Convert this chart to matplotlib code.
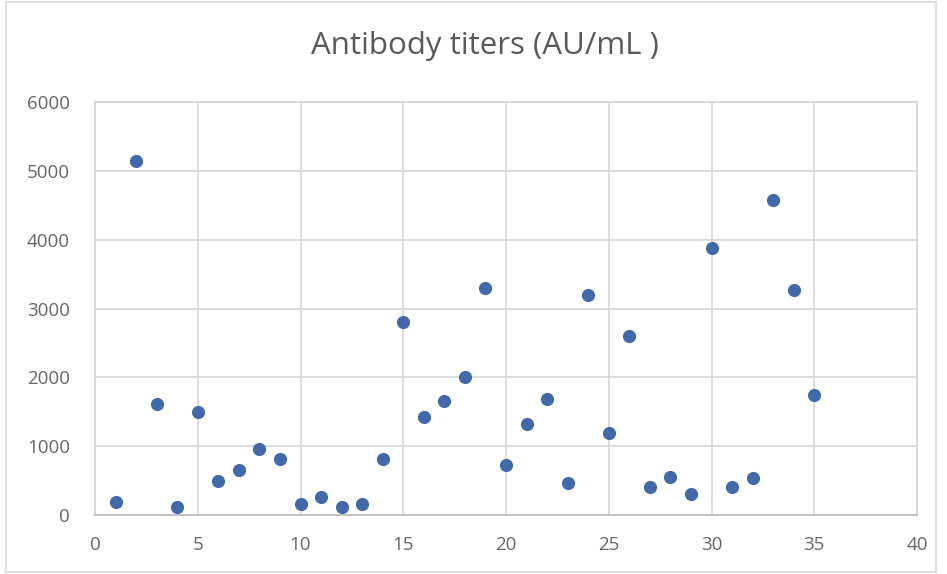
import numpy as np
import matplotlib
matplotlib.use("Agg")
import matplotlib.pyplot as plt
from matplotlib.patches import Rectangle

# Messwerte: Probennummer und Antikörpertiter
proben = np.arange(1, 36)
titer = [190, 5150, 1610, 110, 1500, 500, 650, 960, 820, 155,
         260, 110, 155, 820, 2810, 1430, 1650, 2000, 3300, 720,
         1320, 1690, 470, 3200, 1190, 2600, 400, 550, 300, 3880,
         400, 540, 4580, 3270, 1740]

x_ticks = np.arange(0, 41, 5)
y_ticks = np.arange(0, 6001, 1000)

plt.rcParams['font.family'] = ['Open Sans', 'DejaVu Sans']

fig = plt.figure(figsize=(9.47, 5.74), dpi=100)
ax = fig.add_axes([95 / 947, 1 - 515 / 574, (917 - 95) / 947, (515 - 102) / 574])

# Rahmen um die ganze Grafik
fig.patches.append(Rectangle((6 / 947, 2 / 574), 930 / 947, 570 / 574,
                             transform=fig.transFigure, fill=False,
                             edgecolor='#d9d9d9', linewidth=1.2))

ax.scatter(proben, titer, s=90, color='#4169aa', zorder=3, linewidths=0)

ax.set_xlim(0, 40)
ax.set_ylim(0, 6000)
ax.set_xticks(x_ticks)
ax.set_yticks(y_ticks)
ax.grid(True, color='#d9d9d9', linewidth=1.3)
ax.set_axisbelow(True)
for s in ax.spines.values():
    s.set_color('#d9d9d9')
    s.set_linewidth(1.3)
ax.spines['bottom'].set_color('#bfbfbf')
ax.tick_params(length=0, labelsize=13.5, labelcolor='#666666')
ax.tick_params(axis='x', pad=15)
ax.tick_params(axis='y', pad=18)

fig.text(485 / 947, 1 - 46 / 574, "Antibody titers (AU/mL )", ha='center', va='center',
         fontsize=22.5, color='#595959')

fig.savefig("out.png", dpi=100)
